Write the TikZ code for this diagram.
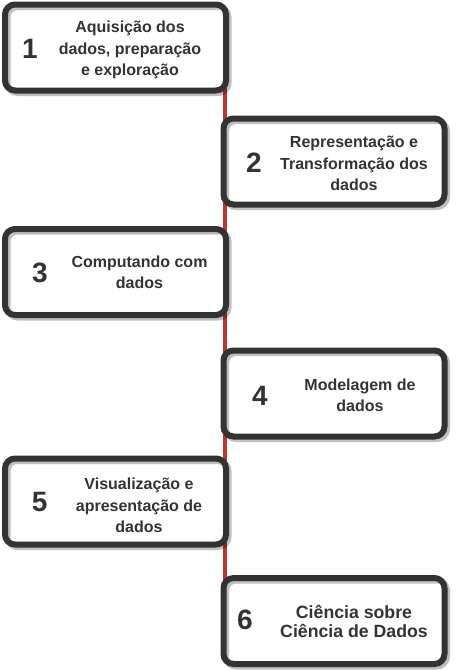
\documentclass[tikz,border=0pt]{standalone}
\usepackage{fontspec}
\setmainfont{Liberation Sans}
\definecolor{dark}{RGB}{51,51,51}
\definecolor{redl}{RGB}{184,56,44}
\begin{document}
\begin{tikzpicture}[x=1pt,y=-1pt,
  box/.style={draw=dark, line width=6pt, rounded corners=10pt,
    minimum width=221pt, minimum height=86pt, inner sep=0pt,
    preaction={fill=white},
    preaction={draw=black, draw opacity=0.25, line width=6pt,
      transform canvas={shift={(2.5pt,-2.5pt)}}}},
  num/.style={font=\fontsize{28}{30}\selectfont\bfseries, text=dark, inner sep=0pt},
  lbl/.style={font=\fontsize{16}{21.3}\selectfont\bfseries, text=dark, align=center, inner sep=0pt},
  lblb/.style={font=\fontsize{17.7}{19.7}\selectfont\bfseries, text=dark, align=center, inner sep=0pt},
  redline/.style={draw=redl, line width=4.5pt}]
\useasboundingbox (0,0) rectangle (461,670);
\fill[white] (0,0) rectangle (461,670);
\coordinate (lt) at (225,88);
\coordinate (lb) at (225,662);
\draw[redline] (lt) -- (lb);

\node[box] (b1) at (115.5,47.5) {};
\node[box] (b2) at (334,161.5) {};
\node[box] (b3) at (115.5,272) {};
\node[box] (b4) at (334,393.5) {};
\node[box] (b5) at (115.5,501.5) {};
\node[box] (b6) at (334,621) {};

\node[num] (n1) at (30,48.5) {1};
\node[num] (n2) at (254,163) {2};
\node[num] (n3) at (40,273.3) {3};
\node[num] (n4) at (260,396) {4};
\node[num] (n5) at (39.7,502) {5};
\node[num] (n6) at (245,619.7) {6};

\node[lbl] (t1) at (130,50) {Aquisição dos\\dados, preparação\\e exploração};
\node[lbl] (t2) at (354,163.5) {Representação e\\Transformação dos\\dados};
\node[lbl] (t3) at (139.5,272.3) {Computando com\\dados};
\node[lbl] (t4) at (360,395.5) {Modelagem de\\dados};
\node[lbl] (t5) at (139,505.5) {Visualização e\\apresentação de\\dados};
\node[lblb] (t6) at (354,621.4) {Ciência sobre\\Ciência de Dados};
\end{tikzpicture}
\end{document}
